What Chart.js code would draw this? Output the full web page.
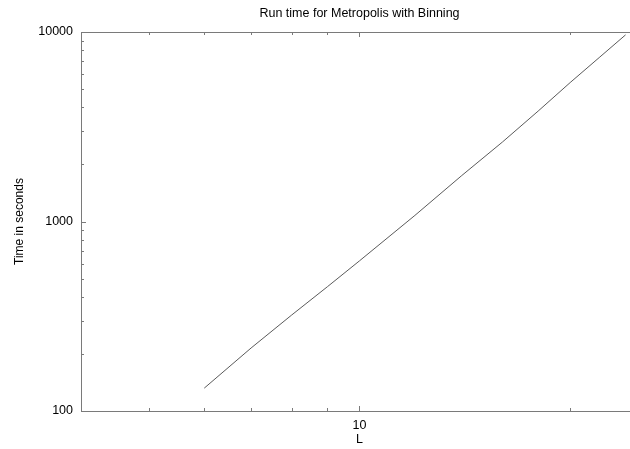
<!DOCTYPE html>
<html>
<head>
<meta charset="utf-8">
<script src="https://cdn.jsdelivr.net/npm/chart.js@4/dist/chart.umd.min.js"></script>
<style>
  html, body { margin: 0; padding: 0; background: #fff; overflow: hidden; }
  canvas { display: block; }
</style>
</head>
<body>
<!-- el lienzo es algo más ancho que la ventana: el borde derecho queda recortado como en la imagen -->
<canvas id="grafico" width="640" height="449"></canvas>
<script>
// Datos (escala log-log)
const tamanos = [6, 7, 8, 9, 10, 12, 14, 16, 18, 20, 22, 24];
const tiempos = [132, 215, 321, 453, 620, 1077, 1748, 2624, 3825, 5410, 7325, 9660];
const marcasX = [10];
const marcasY = [100, 1000, 10000];

const colorEje = "#7a7a7a";
const fuente = "'Liberation Sans', Arial, Helvetica, sans-serif";

// Marcas hacia dentro en los cuatro lados, como en gnuplot
const marcasInternas = {
    id: "marcasInternas",
    afterDatasetsDraw(chart) {
        const { ctx, chartArea: a, scales } = chart;
        ctx.save();
        ctx.strokeStyle = colorEje;
        ctx.lineWidth = 1;
        ctx.beginPath();
        ctx.moveTo(a.left, a.top + 0.5);
        ctx.lineTo(a.right, a.top + 0.5);
        ctx.moveTo(a.right - 0.5, a.top);
        ctx.lineTo(a.right - 0.5, a.bottom);
        ctx.stroke();

        const decadaX = [1, 10];
        const decadaY = [100, 1000];
        ctx.beginPath();
        decadaX.forEach(base => {
            for (let k = 1; k < 10; k++) {
                const v = base * k;
                if (v < scales.x.min || v > scales.x.max) continue;
                const px = Math.round(scales.x.getPixelForValue(v)) + 0.5;
                const largo = k === 1 ? 5 : 3;
                ctx.moveTo(px, a.bottom); ctx.lineTo(px, a.bottom - largo);
                ctx.moveTo(px, a.top); ctx.lineTo(px, a.top + largo);
            }
        });
        decadaY.forEach(base => {
            for (let k = 1; k <= 10; k++) {
                const v = base * k;
                if (v < scales.y.min || v > scales.y.max) continue;
                const py = Math.round(scales.y.getPixelForValue(v)) + 0.5;
                const largo = (k === 1 || k === 10) ? 5 : 3;
                ctx.moveTo(a.left, py); ctx.lineTo(a.left + largo, py);
                ctx.moveTo(a.right, py); ctx.lineTo(a.right - largo, py);
            }
        });
        ctx.stroke();
        ctx.restore();
    }
};

const ctx = document.getElementById("grafico").getContext("2d");
new Chart(ctx, {
    type: "line",
    data: {
        datasets: [{
            data: tamanos.map((l, i) => ({ x: l, y: tiempos[i] })),
            borderColor: "#5a5a5a",
            borderWidth: 1,
            pointRadius: 0,
            tension: 0,
            fill: false
        }]
    },
    options: {
        responsive: false,
        animation: false,
        devicePixelRatio: 1,
        layout: { padding: { left: 0, right: 2, top: 0, bottom: 0 } },
        plugins: {
            legend: { display: false },
            tooltip: { enabled: false },
            title: {
                display: true,
                fullSize: false,
                text: "Run time for Metropolis with Binning",
                color: "#000",
                font: { family: fuente, size: 12.5, weight: "normal" },
                padding: { top: 6, bottom: 11 }
            }
        },
        scales: {
            x: {
                type: "logarithmic",
                min: 4,
                max: 25,
                grid: { display: false, drawTicks: false },
                border: { display: true, color: colorEje },
                afterBuildTicks: s => { s.ticks = marcasX.map(v => ({ value: v })); },
                afterFit: s => { s.height = 38; },
                ticks: {
                    color: "#000",
                    padding: 7,
                    maxRotation: 0,
                    font: { family: fuente, size: 12.5 },
                    callback: v => String(v)
                },
                title: {
                    display: true,
                    text: "L",
                    color: "#000",
                    font: { family: fuente, size: 12.5 },
                    padding: { top: 0, bottom: 2 }
                }
            },
            y: {
                type: "logarithmic",
                min: 100,
                max: 10000,
                grid: { display: false, drawTicks: false },
                border: { display: true, color: colorEje },
                afterBuildTicks: s => { s.ticks = marcasY.map(v => ({ value: v })); },
                afterFit: s => { s.width = 81; },
                ticks: {
                    color: "#000",
                    padding: 8,
                    font: { family: fuente, size: 12.5 },
                    callback: v => String(v)
                },
                title: {
                    display: true,
                    text: "Time in seconds",
                    color: "#000",
                    font: { family: fuente, size: 12 },
                    padding: { top: 12.8, bottom: 0 }
                }
            }
        }
    },
    plugins: [marcasInternas]
});
</script>
</body>
</html>
